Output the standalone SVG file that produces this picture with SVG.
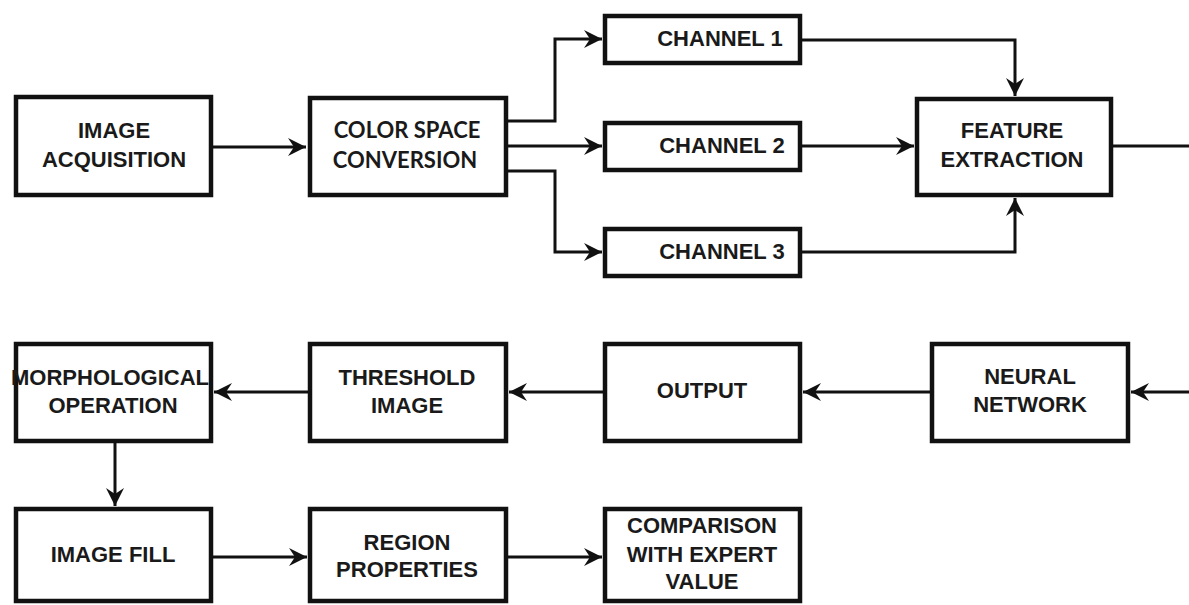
<svg xmlns="http://www.w3.org/2000/svg" width="1189" height="605" viewBox="0 0 1189 605">
<style>
.box{fill:#fff;stroke:#111;stroke-width:4.5}
text{font-weight:bold;font-size:22px;fill:#1a1a1a;text-anchor:middle}
.ln{fill:none;stroke:#111;stroke-width:3}
</style>
<defs>
<marker id="ah" markerUnits="userSpaceOnUse" markerWidth="20" markerHeight="20" refX="18" refY="9" orient="auto">
<path d="M0,0 L18,9 L0,18 L6,9 Z" fill="#111"/>
</marker>
</defs>
<rect width="1189" height="605" fill="#fff"/>
<g id="connectors">
<path class="ln" d="M213,147 H306" marker-end="url(#ah)"/>
<path class="ln" d="M508,121 H555 V39 H602" marker-end="url(#ah)"/>
<path class="ln" d="M508,146 H602" marker-end="url(#ah)"/>
<path class="ln" d="M508,171 H555 V252 H602" marker-end="url(#ah)"/>
<path class="ln" d="M802,40 H1015 V96" marker-end="url(#ah)"/>
<path class="ln" d="M802,146 H914" marker-end="url(#ah)"/>
<path class="ln" d="M802,252 H1015 V198" marker-end="url(#ah)"/>
<path class="ln" d="M1113,146 H1189"/>
<path class="ln" d="M1189,392 H1131" marker-end="url(#ah)"/>
<path class="ln" d="M930,392 H803" marker-end="url(#ah)"/>
<path class="ln" d="M603,392 H509" marker-end="url(#ah)"/>
<path class="ln" d="M308,392 H214" marker-end="url(#ah)"/>
<path class="ln" d="M115,443 V506" marker-end="url(#ah)"/>
<path class="ln" d="M213,557 H307" marker-end="url(#ah)"/>
<path class="ln" d="M508,557 H602" marker-end="url(#ah)"/>
</g>
<g font-family="'Liberation Sans', Arial, Helvetica, sans-serif">
<g id="image-acquisition">
<rect class="box" x="16" y="97" width="195" height="98"/>
<text x="114" y="138">IMAGE</text>
<text x="114" y="167">ACQUISITION</text>
</g>
<g id="color-space-conversion" font-family="Lato, 'Open Sans', sans-serif">
<rect class="box" x="310" y="98" width="196" height="97"/>
<text x="407" y="138" font-size="21">COLOR SPACE</text>
<text x="405" y="168" font-size="21">CONVERSION</text>
</g>
<g id="channel-1">
<rect class="box" x="605" y="16" width="195" height="47"/>
<text x="720" y="46">CHANNEL 1</text>
</g>
<g id="channel-2">
<rect class="box" x="605" y="123" width="195" height="47"/>
<text x="722" y="153">CHANNEL 2</text>
</g>
<g id="channel-3">
<rect class="box" x="605" y="229" width="195" height="47"/>
<text x="722" y="259">CHANNEL 3</text>
</g>
<g id="feature-extraction">
<rect class="box" x="917" y="99" width="194" height="96"/>
<text x="1012" y="138">FEATURE</text>
<text x="1012" y="167">EXTRACTION</text>
</g>
<g id="neural-network">
<rect class="box" x="932" y="344" width="196" height="97"/>
<text x="1030" y="384">NEURAL</text>
<text x="1030" y="412">NETWORK</text>
</g>
<g id="output">
<rect class="box" x="605" y="344" width="195" height="97"/>
<text x="702" y="398">OUTPUT</text>
</g>
<g id="threshold-image">
<rect class="box" x="310" y="344" width="196" height="97"/>
<text x="407" y="385">THRESHOLD</text>
<text x="407" y="413">IMAGE</text>
</g>
<g id="morphological-operation">
<rect class="box" x="16" y="344" width="195" height="97"/>
<text x="110" y="385">MORPHOLOGICAL</text>
<text x="113" y="413">OPERATION</text>
</g>
<g id="image-fill">
<rect class="box" x="16" y="509" width="195" height="92"/>
<text x="113" y="562">IMAGE FILL</text>
</g>
<g id="region-properties">
<rect class="box" x="310" y="509" width="196" height="92"/>
<text x="407" y="550">REGION</text>
<text x="407" y="577">PROPERTIES</text>
</g>
<g id="comparison-with-expert-value">
<rect class="box" x="605" y="509" width="195" height="92"/>
<text x="702" y="533">COMPARISON</text>
<text x="702" y="562">WITH EXPERT</text>
<text x="702" y="589">VALUE</text>
</g>
</g>
</svg>
